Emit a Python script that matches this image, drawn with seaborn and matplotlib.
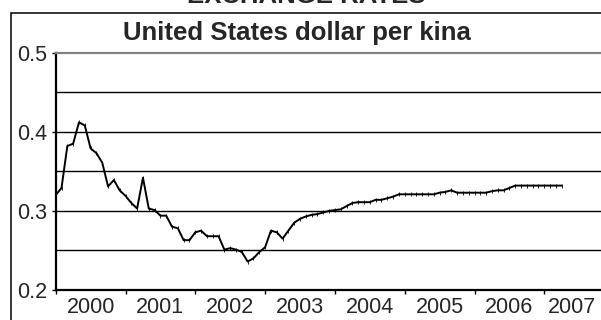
import pandas as pd
import numpy as np
import seaborn as sns
import matplotlib
matplotlib.use('Agg')
import matplotlib.pyplot as plt
from matplotlib.patches import Rectangle

# monthly USD per kina, Jan 2000 onwards
rate = [0.320, 0.329, 0.382, 0.385, 0.412, 0.408, 0.379, 0.373, 0.361, 0.331, 0.339, 0.326,
        0.319, 0.310, 0.303, 0.342, 0.303, 0.301, 0.294, 0.294, 0.280, 0.278, 0.263, 0.263,
        0.273, 0.275, 0.268, 0.268, 0.268, 0.251, 0.253, 0.251, 0.248, 0.236, 0.240, 0.248,
        0.254, 0.275, 0.273, 0.265, 0.275, 0.285, 0.290, 0.293, 0.295, 0.296, 0.298, 0.300,
        0.301, 0.302, 0.306, 0.310, 0.311, 0.311, 0.311, 0.314, 0.314, 0.316, 0.318, 0.321,
        0.321, 0.321, 0.321, 0.321, 0.321, 0.321, 0.323, 0.324, 0.326, 0.323, 0.323, 0.323,
        0.323, 0.323, 0.323, 0.325, 0.326, 0.326, 0.329, 0.332, 0.332, 0.332, 0.332, 0.332,
        0.332, 0.332, 0.332, 0.332]
years = [2000, 2001, 2002, 2003, 2004, 2005, 2006, 2007]
year_labels = ['2000', '2001', '2002', '2003', '2004', '2005', '2006', '2007']
main_title = 'EXCHANGE RATES'
sub_title = 'United States dollar per kina'

dates = pd.date_range('2000-01-01', periods=len(rate), freq='MS')
df = pd.DataFrame({'t': dates.year + (dates.month - 1) / 12.0, 'rate': rate})

sns.set_style('white')
plt.rcParams['font.family'] = ['Liberation Sans', 'DejaVu Sans']

fig = plt.figure(figsize=(6.01, 3.20), dpi=100)
ax = fig.add_axes([55.7 / 601, 30 / 320, 1 - 55.7 / 601, 237.3 / 320])

sns.lineplot(x='t', y='rate', data=df, ax=ax, color='black', linewidth=1.4,
             marker='|', markersize=2.5, markeredgewidth=0.6, markeredgecolor='black')

ax.set_xlim(2000, 2000 + (601 - 55.7) / 69.8)
ax.set_ylim(0.2, 0.5)
for g in [0.25, 0.3, 0.35, 0.4, 0.45]:
    ax.axhline(g, color='black', linewidth=1.0, zorder=0)

ax.set_yticks([0.2, 0.3, 0.4, 0.5])
ax.set_yticklabels(['0.2', '0.3', '0.4', '0.5'])
ax.set_xticks(years)
ax.set_xticklabels([])
label_pos = [y + 0.5 for y in years[:-1]] + [2007.4]
ax.set_xticks(label_pos, minor=True)
ax.set_xticklabels(year_labels, minor=True)
ax.tick_params(axis='x', which='major', direction='out', length=3, width=1, color='black', bottom=True)
ax.tick_params(axis='x', which='minor', length=0, pad=5, labelsize=15.5)
ax.tick_params(axis='y', direction='out', length=3, width=1, color='black', left=True, pad=3, labelsize=15.5)
ax.set_xlabel('')
ax.set_ylabel('')

for s in ['left', 'bottom']:
    ax.spines[s].set_color('black')
    ax.spines[s].set_linewidth(1.6)
ax.spines['top'].set_color('#808080')
ax.spines['top'].set_linewidth(1.6)
ax.spines['right'].set_visible(False)

# outer chart frame
fig.patches.append(Rectangle((11 / 601, -0.2), 1.2, 1.2 - 13 / 320, transform=fig.transFigure,
                             fill=False, edgecolor='black', linewidth=1.1))
fig.text(306 / 601, 1 - 3 / 320, main_title, ha='center', va='baseline',
         fontsize=18.5, fontweight='bold')
fig.text(297 / 601, 1 - 40 / 320, sub_title, ha='center', va='baseline',
         fontsize=18.5, fontweight='bold')

fig.savefig('out.png', dpi=100)
